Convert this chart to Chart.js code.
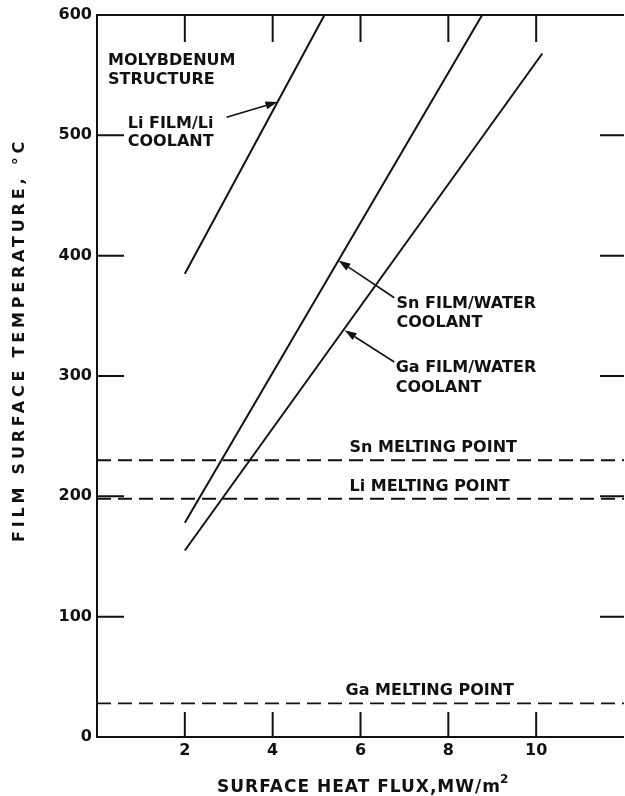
<!DOCTYPE html>
<html>
<head>
<meta charset="utf-8">
<script src="https://cdn.jsdelivr.net/npm/chart.js@4/dist/chart.umd.min.js"></script>
<style>
  html, body { margin: 0; padding: 0; background: #fff; }
  #wrap { width: 625px; height: 796px; }
</style>
</head>
<body>
<div id="wrap"><canvas id="c" width="625" height="796"></canvas></div>
<script>
// Film surface temperature against surface heat flux, molybdenum structure
const xTicks = [2, 4, 6, 8, 10];
const yTicks = [0, 100, 200, 300, 400, 500, 600];
const innerYTicks = [100, 200, 300, 400, 500];

// Li film / Li coolant
const liFlux = [2, 5.18];
const liTemp = [385, 600];
// Sn film / water coolant
const snFlux = [2, 8.77];
const snTemp = [178, 600];
// Ga film / water coolant
const gaFlux = [2, 10.14];
const gaTemp = [155, 568];

// Melting points (horizontal reference lines across the full flux range)
const meltFlux = [0, 12];
const snMelt = 230;
const liMelt = 198;
const gaMelt = 28;

const INK = '#111';
const FONT = '"DejaVu Sans", sans-serif';

function pts(xs, ys) { return xs.map((x, i) => ({ x, y: ys[i] })); }

const solid = (label, xs, ys) => ({
  label, data: pts(xs, ys), showLine: true, pointRadius: 0,
  borderColor: INK, borderWidth: 2, fill: false
});
const dashed = (label, t) => ({
  label, data: pts(meltFlux, meltFlux.map(() => t)), showLine: true, pointRadius: 0,
  borderColor: INK, borderWidth: 1.8, borderDash: [14, 7], fill: false
});

// Text notes placed in data coordinates (left edge, baseline)
const notes = [
  { text: 'MOLYBDENUM', x: 0.25, y: 558.5 },
  { text: 'STRUCTURE', x: 0.25, y: 543 },
  { text: 'Li FILM/Li', x: 0.70, y: 506 },
  { text: 'COOLANT', x: 0.70, y: 491 },
  { text: 'Sn FILM/WATER', x: 6.82, y: 356.5 },
  { text: 'COOLANT', x: 6.82, y: 340.7 },
  { text: 'Ga FILM/WATER', x: 6.80, y: 303.3 },
  { text: 'COOLANT', x: 6.80, y: 286.7 },
  { text: 'Sn MELTING POINT', x: 5.75, y: 236.8 },
  { text: 'Li MELTING POINT', x: 5.75, y: 204.4 },
  { text: 'Ga MELTING POINT', x: 5.66, y: 34.9 }
];

// Leader arrows from the labels to their curves
const arrows = [
  { from: [2.95, 515], to: [4.11, 527.7] },
  { from: [6.77, 365], to: [5.50, 396] },
  { from: [6.77, 311.6], to: [5.64, 338] }
];

const decor = {
  id: 'decor',
  afterDatasetsDraw(chart) {
    const ctx = chart.ctx;
    const xs = chart.scales.x, ys = chart.scales.y;
    const a = chart.chartArea;
    ctx.save();
    ctx.strokeStyle = INK;
    ctx.fillStyle = INK;
    ctx.lineCap = 'butt';

    // frame: left, top and bottom edges
    ctx.lineWidth = 2;
    ctx.beginPath();
    ctx.moveTo(a.right, a.top); ctx.lineTo(a.left, a.top);
    ctx.lineTo(a.left, a.bottom); ctx.lineTo(a.right, a.bottom);
    ctx.stroke();

    // inward tick marks on all four sides
    ctx.lineWidth = 2;
    ctx.beginPath();
    xTicks.forEach(v => {
      const px = xs.getPixelForValue(v);
      ctx.moveTo(px, a.top); ctx.lineTo(px, a.top + 27);
      ctx.moveTo(px, a.bottom); ctx.lineTo(px, a.bottom - 25);
    });
    innerYTicks.forEach(v => {
      const py = ys.getPixelForValue(v);
      ctx.moveTo(a.left, py); ctx.lineTo(a.left + 27, py);
      ctx.moveTo(a.right, py); ctx.lineTo(a.right - 24, py);
    });
    ctx.stroke();

    // notes
    ctx.font = 'bold 16px ' + FONT;
    ctx.textAlign = 'left';
    ctx.textBaseline = 'alphabetic';
    notes.forEach(n => {
      ctx.fillText(n.text, xs.getPixelForValue(n.x), ys.getPixelForValue(n.y));
    });

    // arrows
    ctx.lineWidth = 1.6;
    arrows.forEach(ar => {
      const x0 = xs.getPixelForValue(ar.from[0]), y0 = ys.getPixelForValue(ar.from[1]);
      const x1 = xs.getPixelForValue(ar.to[0]), y1 = ys.getPixelForValue(ar.to[1]);
      const ang = Math.atan2(y1 - y0, x1 - x0);
      const L = 12, W = 4;
      const bx = x1 - L * Math.cos(ang), by = y1 - L * Math.sin(ang);
      ctx.beginPath();
      ctx.moveTo(x0, y0); ctx.lineTo(bx, by);
      ctx.stroke();
      ctx.beginPath();
      ctx.moveTo(x1, y1);
      ctx.lineTo(bx + W * Math.sin(ang), by - W * Math.cos(ang));
      ctx.lineTo(bx - W * Math.sin(ang), by + W * Math.cos(ang));
      ctx.closePath();
      ctx.fill();
    });

    // x axis title with a raised exponent
    const mainTitle = 'SURFACE HEAT FLUX,MW/m';
    ctx.font = 'bold 17px ' + FONT;
    ctx.letterSpacing = '1px';
    ctx.textAlign = 'left';
    const mw = ctx.measureText(mainTitle).width;
    const startX = 217;
    ctx.fillText(mainTitle, startX, 792);
    ctx.font = 'bold 12px ' + FONT;
    ctx.letterSpacing = '0px';
    ctx.fillText('2', startX + mw - 1, 783);

    // y axis title
    ctx.font = 'bold 16px ' + FONT;
    ctx.letterSpacing = '3.8px';
    ctx.textAlign = 'center';
    ctx.translate(24, 340);
    ctx.rotate(-Math.PI / 2);
    ctx.fillText('FILM SURFACE TEMPERATURE, \u00B0C', 0, 0);
    ctx.restore();
  }
};

new Chart(document.getElementById('c'), {
  type: 'scatter',
  data: {
    datasets: [
      solid('Li film/Li coolant', liFlux, liTemp),
      solid('Sn film/water coolant', snFlux, snTemp),
      solid('Ga film/water coolant', gaFlux, gaTemp),
      dashed('Sn melting point', snMelt),
      dashed('Li melting point', liMelt),
      dashed('Ga melting point', gaMelt)
    ]
  },
  options: {
    responsive: false,
    animation: false,
    devicePixelRatio: 1,
    layout: { padding: { top: 15, right: 1, left: 0, bottom: 0 } },
    plugins: { legend: { display: false }, tooltip: { enabled: false } },
    scales: {
      x: {
        type: 'linear', min: 0, max: 12,
        afterBuildTicks: s => { s.ticks = xTicks.map(v => ({ value: v })); },
        afterFit: s => { s.height = 59; },
        grid: { display: false, drawTicks: false },
        border: { display: false },
        ticks: { color: INK, font: { family: FONT, size: 16, weight: 'bold' }, padding: 4, maxRotation: 0 }
      },
      y: {
        type: 'linear', min: 0, max: 600,
        afterBuildTicks: s => { s.ticks = yTicks.map(v => ({ value: v })); },
        afterFit: s => { s.width = 97; },
        grid: { display: false, drawTicks: false },
        border: { display: false },
        ticks: { color: INK, font: { family: FONT, size: 16, weight: 'bold' }, padding: 5 }
      }
    }
  },
  plugins: [decor]
});
</script>
</body>
</html>
